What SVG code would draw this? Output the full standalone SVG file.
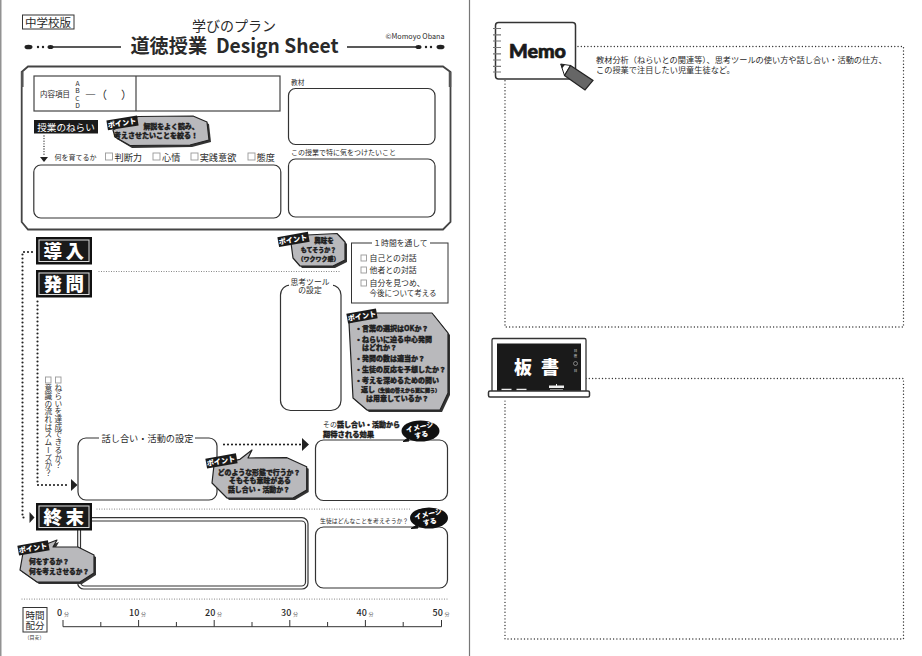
<svg xmlns="http://www.w3.org/2000/svg" width="922" height="656" viewBox="0 0 922 656">
<style>
text{font-family:"Noto Sans CJK JP","Noto Sans",sans-serif;fill:#2a2a2a}
.ln{fill:#fff;stroke:#333;stroke-width:1.2}
.dot{fill:none;stroke:#222;stroke-width:2.2;stroke-linecap:round;stroke-dasharray:0 4}
.gdot{fill:none;stroke:#777;stroke-width:1.2;stroke-linecap:round;stroke-dasharray:0 2.5}
.pdot{fill:none;stroke:#333;stroke-width:1.4;stroke-linecap:round;stroke-dasharray:0 3.3}
.cb{fill:#fff;stroke:#999;stroke-width:.9}
.call{fill:#b9b9bc;stroke:#222;stroke-width:1.2;stroke-linejoin:round}
.shadow{fill:#333}
.tag{fill:#1a1a1a}
.tagt{fill:#fff;font-size:7.200px;font-weight:900;text-anchor:middle}
.h{font-weight:900;fill:#1d1d1d;stroke:#1d1d1d;stroke-width:.35}
.mid{text-anchor:middle}
.sec{fill:#fff;font-size:18.500px;font-weight:900;text-anchor:middle;letter-spacing:3.500px}
.secb{fill:#1a1a1a;stroke:#111;stroke-width:2}
.seci{fill:none;stroke:#ddd;stroke-width:1}
.min{font-size:5px;fill:#666}
.num{font-size:9px;font-weight:500}
</style>
<rect width="922" height="656" fill="#fff"/>
<g id="page-edges" stroke="#777" stroke-width="1.2"><line x1="0.8" y1="0" x2="0.8" y2="656"/><line x1="469.5" y1="0" x2="469.5" y2="656"/></g>

<g id="header">
<rect x="22.5" y="15" width="51.5" height="14" fill="#fff" stroke="#333" stroke-width="1"/>
<text x="25" y="26.5" font-size="11.5">中学校版</text>
<text x="234" y="31" font-size="14" class="mid">学びのプラン</text>
<text x="234.5" y="53" font-size="19.2" font-weight="700" class="mid" fill="#1a1a1a" xml:space="preserve">道徳授業  Design Sheet</text>
<text x="444.5" y="39" font-size="7.2" text-anchor="end" fill="#555">©Momoyo Obana</text>
<g fill="#222"><ellipse cx="28.500" cy="47" rx="4" ry="2.300"/><circle cx="38" cy="47" r="1.200"/><circle cx="43" cy="47" r="1.200"/><ellipse cx="50.500" cy="47" rx="3" ry="2"/>
<ellipse cx="440.500" cy="47" rx="4" ry="2.300"/><circle cx="431" cy="47" r="1.200"/><circle cx="426" cy="47" r="1.200"/><ellipse cx="418.500" cy="47" rx="3" ry="2"/></g>
<line x1="53" y1="47" x2="121" y2="47" stroke="#222" stroke-width="1.3"/>
<line x1="347" y1="47" x2="416" y2="47" stroke="#222" stroke-width="1.3"/>
</g>

<g id="frame">
<path d="M28 66.500H443L450.500 72V222L443 229.500H28L21.700 222V72Z" fill="#fff" stroke="#444" stroke-width="1.800"/>
<line x1="22.300" y1="72" x2="22.300" y2="87" stroke="#555" stroke-width="2.500"/>
<line x1="450" y1="72" x2="450" y2="87" stroke="#555" stroke-width="2.500"/>
</g>

<g id="content-item">
<rect x="34" y="76" width="246" height="35" fill="#fff" stroke="#444" stroke-width="1.200"/>
<line x1="136" y1="76" x2="136" y2="111" stroke="#444" stroke-width="1.200"/>
<text x="40" y="97" font-size="7.500" fill="#444">内容項目</text>
<text x="77.500" y="85.500" font-size="6.800" class="mid" fill="#444">A</text><text x="77.500" y="93" font-size="6.800" class="mid" fill="#444">B</text><text x="77.500" y="100.500" font-size="6.800" class="mid" fill="#444">C</text><text x="77.500" y="108" font-size="6.800" class="mid" fill="#444">D</text>
<text x="85 96 121" y="98.500" font-size="11" fill="#444">―（）</text>
</g>

<g id="material"><text x="291" y="85" font-size="6.700" fill="#444">教材</text><rect class="ln" x="288.500" y="88.500" width="146.500" height="56" rx="7"/></g>
<g id="caution"><text x="291" y="155" font-size="7" fill="#444">この授業で特に気をつけたいこと</text><rect class="ln" x="288.500" y="159" width="146.500" height="58" rx="7"/></g>

<g id="aim-label"><rect x="34" y="120" width="64" height="13.500" fill="#1a1a1a"/><text x="66" y="130.500" font-size="9.600" class="mid" style="fill:#fff">授業のねらい</text></g>

<g id="aim-point">
<polygon class="shadow" points="140,118 195,118 209,124 211,142 192,147 132,148 117,139 115,132"/>
<polygon class="call" points="138,116.500 193,116 207,122 209,140 190,145 130,145.500 115,137 113,130"/>
<rect class="tag" x="107" y="118" width="31" height="10" transform="rotate(-9 122 123)"/>
<text class="tagt" x="122" y="125.700" transform="rotate(-9 122 123)">ポイント</text>
<text class="h mid" x="171" y="129" font-size="6.900">解説をよく読み、</text>
<text class="h mid" x="156" y="138" font-size="7">考えさせたいことを絞る！</text>
</g>

<g id="aim-grow">
<text x="54.500" y="159.500" font-size="7">何を育てるか</text>
<rect class="cb" x="105.500" y="153" width="7" height="7"/><text x="114.500" y="160.500" font-size="9.200" fill="#444">判断力</text>
<rect class="cb" x="153" y="153" width="7" height="7"/><text x="162" y="160.500" font-size="9.200" fill="#444">心情</text>
<rect class="cb" x="191" y="153" width="7" height="7"/><text x="199.700" y="160.500" font-size="9.200" fill="#444">実践意欲</text>
<rect class="cb" x="248" y="153" width="7" height="7"/><text x="256.500" y="160.500" font-size="9.200" fill="#444">態度</text>
<rect class="ln" x="33.800" y="165" width="247" height="53" rx="7"/>
</g>

<g id="connectors">
<path class="dot" d="M44 136V155" style="stroke-width:1.300;stroke-dasharray:0 2.600"/><polygon points="40,157 48,157 44,162" fill="#222"/>
<path class="dot" d="M32 252H22.500V517.500H27"/>
<polygon points="29.500,512 34.500,517.500 29.500,523" fill="#222"/>
<path class="dot" d="M37.500 301.500V485H70"/>
<polygon points="71,479 77.500,485 71,491" fill="#222"/>
<path class="dot" d="M224 444.500H301"/>
<polygon points="302,438 309,444.500 302,451" fill="#222"/>
<path class="gdot" d="M99 271.500H340"/>
<path class="gdot" d="M97 509H412"/>
<path class="gdot" d="M22 599H448"/>
</g>

<g id="intro"><rect class="secb" x="37" y="238" width="54" height="25.500"/><rect class="seci" x="39" y="240" width="50" height="21.500"/><text class="sec" x="65.500" y="257.500">導入</text></g>
<g id="question"><rect class="secb" x="37" y="271" width="54" height="25.500"/><rect class="seci" x="39" y="273" width="50" height="21.500"/><text class="sec" x="65.500" y="290.500">発問</text></g>

<g id="interest-point">
<polygon class="shadow" points="309,237 339,235.300 347,244 347,262 335,268 302,268 295,260 293,245"/>
<polygon class="call" points="307,235 337,233.500 345,242 345,260 333,266 300,266 293,258 291,243"/>
<rect class="tag" x="278" y="234.500" width="31" height="10" transform="rotate(-10 293 239.500)"/>
<text class="tagt" x="293" y="242.200" transform="rotate(-10 293 239.500)">ポイント</text>
<text class="h mid" x="324" y="243" font-size="6.500">興味を</text>
<text class="h mid" x="318.500" y="252" font-size="6">もてそうか？</text>
<text class="h mid" x="318.500" y="260.500" font-size="6">（ワクワク感）</text>
</g>

<g id="one-hour">
<rect class="ln" x="351.500" y="243" width="96.500" height="60" style="stroke-width:1"/>
<rect x="372" y="240" width="58" height="6" fill="#fff"/>
<text class="mid" x="400.500" y="246" font-size="7.800" fill="#444">１時間を通して</text>
<rect class="cb" x="361" y="255" width="5.500" height="6"/><text x="369.500" y="261" font-size="7.900" fill="#444">自己との対話</text>
<rect class="cb" x="361" y="267" width="5.500" height="6"/><text x="369.500" y="273" font-size="7.900" fill="#444">他者との対話</text>
<rect class="cb" x="361" y="280" width="5.500" height="6"/><text x="369.500" y="286" font-size="7.900" fill="#444">自分を見つめ、</text>
<text x="369.500" y="295.500" font-size="7.500" fill="#444">今後について考える</text>
</g>

<g id="thinking-tool">
<rect class="ln" x="280.500" y="285" width="60.500" height="125.500" rx="10"/>
<rect x="289" y="280" width="44" height="9" fill="#fff"/>
<text class="mid" x="310" y="284.500" font-size="7.800" fill="#444">思考ツール</text>
<text class="mid" x="310" y="292.500" font-size="7.800" fill="#444">の設定</text>
</g>

<g id="question-point">
<polygon class="shadow" points="379,315 434,315 450,335 450,395 442,412 369,412 355,400 351,325"/>
<polygon class="call" points="377,313 432,313 448,333 448,393 440,410 367,410 353,398 349,323"/>
<rect class="tag" x="347" y="311" width="30" height="10" transform="rotate(-10 362 316)"/>
<text class="tagt" x="362" y="318.700" transform="rotate(-10 362 316)">ポイント</text>
<g font-size="7">
<text class="h" x="355" y="331">・</text><text class="h" x="362" y="331">言葉の選択はOKか？</text>
<text class="h" x="355" y="342">・</text><text class="h" x="362" y="342">ねらいに迫る中心発問</text>
<text class="h" x="362" y="349.500">はどれか？</text>
<text class="h" x="355" y="361">・</text><text class="h" x="362" y="361">発問の数は適当か？</text>
<text class="h" x="355" y="371.500">・</text><text class="h" x="362" y="371.500">生徒の反応を予想したか？</text>
<text class="h" x="355" y="382.500">・</text><text class="h" x="362" y="382.500">考えを深めるための問い</text>
<text class="h" x="361" y="391.500">返し<tspan font-size="5">（生徒の答えから更に問う）</tspan></text>
<text class="h" x="366" y="400.500">は用意しているか？</text>
</g>
</g>

<g id="check-vertical">
<rect class="cb" x="55.500" y="377" width="5.500" height="6"/><rect class="cb" x="45.500" y="377" width="5.500" height="6"/>
<text x="58.300" y="384.500" font-size="7.700" style="writing-mode:vertical-rl;text-orientation:upright" fill="#333">ねらいを達成できるか？</text>
<text x="48.300" y="384.500" font-size="7.700" style="writing-mode:vertical-rl;text-orientation:upright" fill="#333">意識の流れはスムーズか？</text>
</g>

<g id="discussion">
<rect class="ln" x="78" y="438" width="139" height="62" rx="8"/>
<rect x="99" y="434" width="96" height="8" fill="#fff"/>
<text class="mid" x="147.500" y="441.500" font-size="9.200" fill="#444">話し合い・活動の設定</text>
</g>

<g id="effect">
<text x="323" y="427" font-size="7"><tspan font-weight="400">その</tspan><tspan class="h">話し合い・活動から</tspan></text>
<text class="h" x="323" y="436.500" font-size="7.300">期待される効果</text>
<rect class="ln" x="315.500" y="440" width="132" height="60.500" rx="8"/>
<ellipse cx="420.500" cy="431" rx="19" ry="10.500" fill="#111"/><path d="M408 438L403 441.500L409 441Z" fill="#111" stroke="#111"/>
<g transform="rotate(-12 420.500 431)"><text class="mid" x="420.500" y="429.500" font-size="7" font-weight="900" style="fill:#fff">イメージ</text><text class="mid" x="420.500" y="437.500" font-size="7" font-weight="900" style="fill:#fff">する</text></g>
</g>

<g id="discussion-point">
<polygon class="shadow" points="242,461 289,459.700 308.700,468.700 308.700,492 295,500 229,500 214,485 216,467"/>
<polygon class="call" points="240,459.300 252,450 248,458 287,457.700 306.700,466.700 306.700,490 293,498 227,498 212,483 214,465"/>
<rect class="tag" x="206" y="456" width="31" height="10" transform="rotate(-10 221 461)"/>
<text class="tagt" x="221" y="463.700" transform="rotate(-10 221 461)">ポイント</text>
<text class="h mid" x="259" y="474.500" font-size="6.900">どのような形態で行うか？</text>
<text class="h mid" x="260" y="483" font-size="6.900">そもそも意味がある</text>
<text class="h mid" x="259" y="491.500" font-size="6.900">話し合い・活動か？</text>
</g>

<g id="closing-box">
<rect x="77.700" y="517.700" width="230.300" height="71.300" rx="6" fill="#fff" stroke="#333" stroke-width="1.200"/>
<rect x="80.500" y="521" width="225" height="65" rx="4" fill="#fff" stroke="#333" stroke-width="1.200"/>
</g>

<g id="closing"><rect class="secb" x="37" y="504" width="54" height="25.500"/><rect class="seci" x="39" y="506" width="50" height="21.500"/><text class="sec" x="65.500" y="523.500">終末</text></g>

<g id="students">
<text x="320" y="523" font-size="5.900" fill="#333">生徒はどんなことを考えそうか？</text>
<rect class="ln" x="315.500" y="527" width="132" height="61" rx="8"/>
<ellipse cx="429" cy="518" rx="19" ry="10.500" fill="#111"/><path d="M417 525L411 528.500L418 528Z" fill="#111" stroke="#111"/>
<g transform="rotate(-12 429 518)"><text class="mid" x="429" y="516.500" font-size="7" font-weight="900" style="fill:#fff">イメージ</text><text class="mid" x="429" y="524.500" font-size="7" font-weight="900" style="fill:#fff">する</text></g>
</g>

<g id="closing-point">
<polygon class="shadow" points="25,555 59,542 55,549 80,549 96,557 96,575 82,584 39,584 22,572"/>
<polygon class="call" points="23,553 57,540 53,547 78,547 94,555 94,573 80,582 37,582 20,570"/>
<rect class="tag" x="18" y="543" width="31" height="10" transform="rotate(-10 33 548)"/>
<text class="tagt" x="33" y="550.700" transform="rotate(-10 33 548)">ポイント</text>
<text class="h" x="29" y="564" font-size="6.700">何をするか？</text>
<text class="h" x="29" y="573.500" font-size="6.700">何を考えさせるか？</text>
</g>

<g id="time">
<rect x="23" y="607.500" width="24" height="24.500" fill="#fff" stroke="#333" stroke-width="1"/>
<text class="mid" x="35" y="618.500" font-size="9.500" fill="#444">時間</text><text class="mid" x="35" y="628.500" font-size="9.500" fill="#444">配分</text>
<text class="mid" x="34.500" y="639" font-size="5" fill="#555">（目安）</text>
<path d="M63 620V626.700H441.500V620M100.800 622V626.700M138.600 620V626.700M176.400 622V626.700M214.200 620V626.700M252 622V626.700M289.800 620V626.700M327.600 622V626.700M365.400 620V626.700M403.200 622V626.700" fill="none" stroke="#333" stroke-width="1"/>
<text class="num" x="57" y="616">0</text><text class="min" x="64" y="616">分</text>
<text class="num" x="129" y="616">10</text><text class="min" x="141" y="616">分</text>
<text class="num" x="205" y="616">20</text><text class="min" x="217" y="616">分</text>
<text class="num" x="281" y="616">30</text><text class="min" x="293" y="616">分</text>
<text class="num" x="356.500" y="616">40</text><text class="min" x="368.500" y="616">分</text>
<text class="num" x="432.500" y="616">50</text><text class="min" x="444.500" y="616">分</text>
</g>

<g id="memo-area">
<path class="pdot" d="M578 46.500H903.500V327H505V80"/>
<text x="596" y="63" font-size="8.200" fill="#333">教材分析（ねらいとの関連等）、思考ツールの使い方や話し合い・活動の仕方、</text>
<text x="596" y="73" font-size="8.200" fill="#333">この授業で注目したい児童生徒など。</text>
</g>
<g id="memo-note">
<rect x="495.500" y="22.500" width="80" height="56.500" rx="3" fill="#fff" stroke="#333" stroke-width="1.500"/>
<path d="M493 28.500h8M493 34.800h8M493 41h8M493 47.500h8M493 53.800h8M493 60h8M493 66.300h8M493 72h8" stroke="#777" stroke-width="1.200"/>
<text x="509" y="57.500" font-size="19" font-weight="900" stroke="#1a1a1a" stroke-width=".7" style="font-family:Lato,'Noto Sans',sans-serif;fill:#1a1a1a" textLength="57" lengthAdjust="spacingAndGlyphs">Memo</text>
<polygon points="560.700,64 570.500,65.500 564.500,75.500" fill="#fff" stroke="#222" stroke-width="1"/>
<polygon points="560.700,64 565,64.700 562,68.500" fill="#222"/>
<polygon points="570.500,65.500 593,80.500 585,90 564.500,75.500" fill="#666" stroke="#222" stroke-width="1.200"/>
</g>

<g id="board-area"><path class="pdot" d="M586 378.500H903.500V639H505V398"/></g>
<g id="blackboard">
<rect x="492" y="338.500" width="94" height="54" rx="1.500" fill="#fff" stroke="#333" stroke-width="1.300"/>
<rect x="497" y="343.500" width="84" height="48" fill="#1a1a1a"/>
<text x="514" y="374" font-size="18" font-weight="900" style="fill:#fff" letter-spacing="9">板書</text>
<text x="575.500" y="352" font-size="3.500" class="mid" style="fill:#ddd">日</text><text x="575.500" y="357" font-size="3.500" class="mid" style="fill:#ddd">直</text>
<circle cx="575.500" cy="363.500" r="2" fill="none" stroke="#ddd" stroke-width=".5"/>
<text x="575.500" y="372" font-size="3.500" class="mid" style="fill:#ddd">日</text>
<path d="M501.500 389.500h10M516.500 389.500h10" stroke="#eee" stroke-width="1.500"/>
<rect x="549" y="385.500" width="15" height="2.500" fill="#eee"/><rect x="556" y="384" width="1" height="4" fill="#eee"/><rect x="550" y="389" width="13" height="1" fill="#888"/>
<rect x="488.500" y="391" width="101" height="6" rx="1.500" fill="#fff" stroke="#333" stroke-width="1.500"/>
</g>
</svg>
